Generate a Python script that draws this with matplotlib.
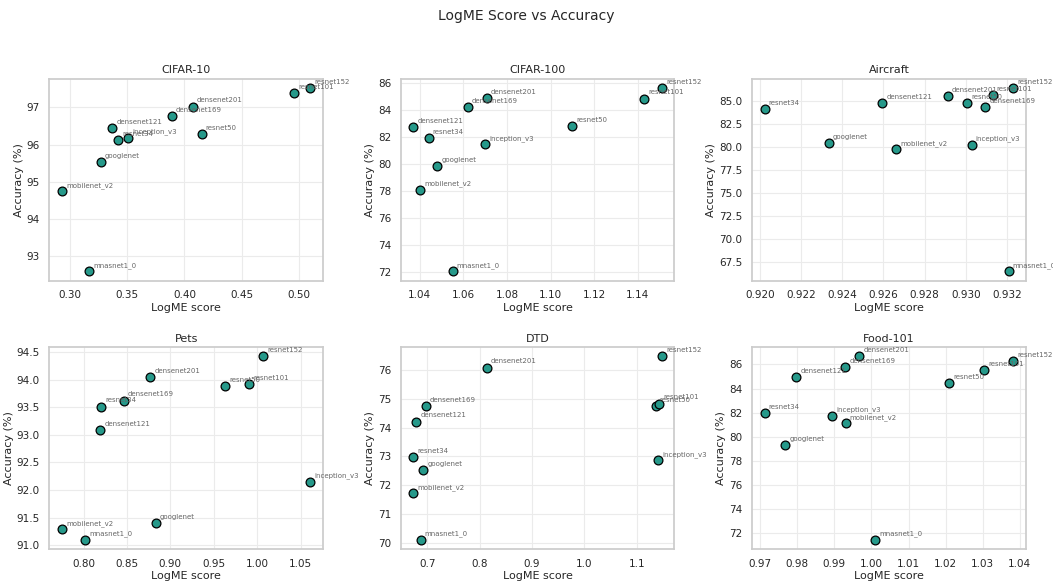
import matplotlib
matplotlib.use("Agg")
import matplotlib.pyplot as plt
import seaborn as sns

models = ["resnet34", "resnet50", "resnet101", "resnet152", "densenet121", "densenet169",
          "densenet201", "mobilenet_v2", "mnasnet1_0", "googlenet", "inception_v3"]

# LogME scores and accuracies
cifar10_logme = [0.342, 0.415, 0.496, 0.510, 0.337, 0.389, 0.407, 0.293, 0.317, 0.327, 0.351]
cifar10_acc = [96.13, 96.28, 97.39, 97.52, 96.45, 96.77, 97.02, 94.74, 92.59, 95.54, 96.18]

cifar100_logme = [1.044, 1.110, 1.143, 1.151, 1.037, 1.062, 1.0707, 1.040, 1.055, 1.048, 1.070]
cifar100_acc = [81.96, 82.82, 84.87, 85.66, 82.77, 84.27, 84.89, 78.11, 72.02, 79.84, 81.50]

aircraft_logme = [0.92023, 0.93007, 0.9313, 0.9323, 0.92595, 0.93095, 0.92913, 0.92662, 0.93208, 0.92334, 0.93028]
aircraft_acc = [84.12, 84.72, 85.60, 86.37, 84.75, 84.26, 85.46, 79.73, 66.47, 80.36, 80.22]

pets_logme = [0.820, 0.963, 0.991, 1.0066, 0.819, 0.846, 0.877, 0.775, 0.8015, 0.883, 1.0615]
pets_acc = [93.51, 93.88, 93.92, 94.42, 93.08, 93.62, 94.04, 91.29, 91.10, 91.40, 92.15]

dtd_logme = [0.673, 1.136, 1.143, 1.148, 0.679, 0.697, 0.813, 0.673, 0.687, 0.692, 1.141]
dtd_acc = [72.98, 74.76, 74.83, 76.47, 74.21, 74.75, 76.08, 71.72, 70.11, 72.54, 72.87]

food_logme = [0.9712, 1.0209, 1.0304, 1.0382, 0.9797, 0.9929, 0.9967, 0.9930, 1.0010, 0.9768, 0.9893]
food_acc = [81.99, 84.44, 85.52, 86.27, 84.95, 85.78, 86.67, 81.10, 71.44, 79.30, 81.75]

datasets = ["CIFAR-10", "CIFAR-100", "Aircraft", "Pets", "DTD", "Food-101"]
all_logme = [cifar10_logme, cifar100_logme, aircraft_logme, pets_logme, dtd_logme, food_logme]
all_acc = [cifar10_acc, cifar100_acc, aircraft_acc, pets_acc, dtd_acc, food_acc]

sns.set_theme(style="whitegrid")
plt.rcParams['font.family'] = ['DejaVu Sans']

fig, axes = plt.subplots(2, 3, figsize=(10.53, 5.84), dpi=100)
fig.suptitle("LogME Score vs Accuracy", fontsize=10, y=0.985)

for ax, name, xs, ys in zip(axes.flat, datasets, all_logme, all_acc):
    ax.scatter(xs, ys, s=40, color="#26998a", edgecolor="black", linewidth=0.9, zorder=3)
    for m, x, y in zip(models, xs, ys):
        ax.annotate(m, (x, y), xytext=(3, 3), textcoords="offset points",
                    fontsize=5, color="#666666")
    ax.set_title(name, fontsize=8, pad=4)
    ax.set_xlabel("LogME score", fontsize=8, labelpad=2)
    ax.set_ylabel("Accuracy (%)", fontsize=8, labelpad=2)
    ax.tick_params(labelsize=7.5, pad=1)
    ax.grid(True, color="#ebebeb", linewidth=0.8)
    for s in ax.spines.values():
        s.set_color("#cccccc")

plt.subplots_adjust(left=0.047, right=0.974, top=0.865, bottom=0.06, wspace=0.285, hspace=0.33)
plt.savefig("out.png", dpi=100)
